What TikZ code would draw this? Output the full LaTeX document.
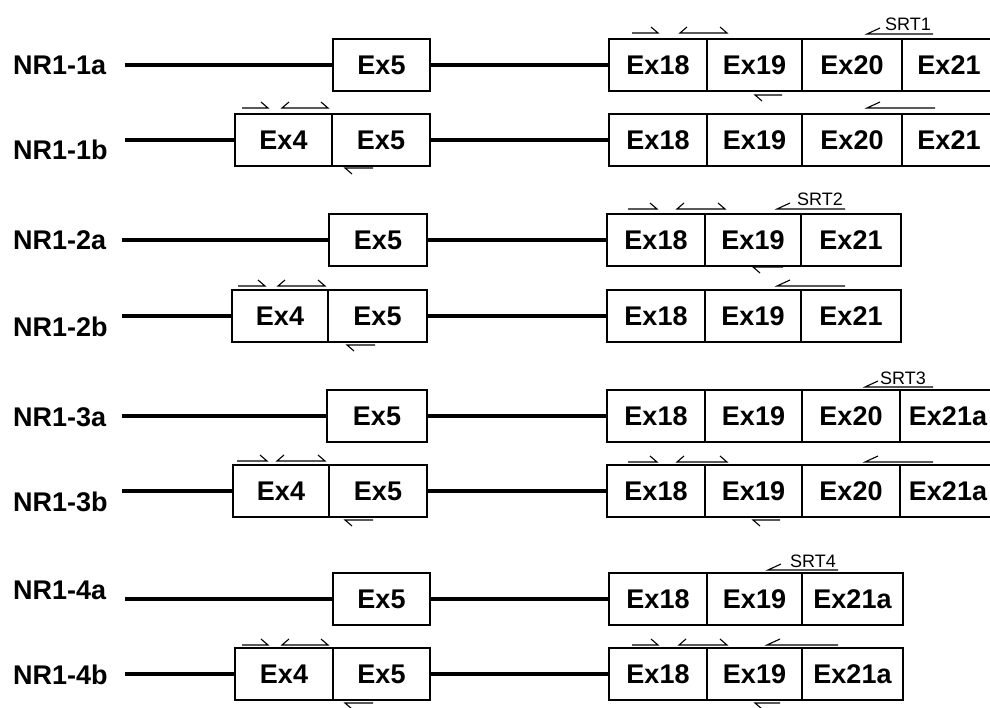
\documentclass[tikz,border=0pt]{standalone}
\usepackage{fontspec}
\setmainfont{Liberation Sans}
\newcommand\labfont{\bfseries\fontsize{27}{32}\selectfont}
\newcommand\srtfont{\fontsize{18}{21}\selectfont}
\newcommand\exon[5]{\pgfmathsetmacro\ecx{(#2+#3)/2}\pgfmathsetmacro\ew{#3-#2}\node[exon,minimum width=\ew pt] (#1) at (\ecx,#4) {#5};}
\newcommand\fwdp[3]{\draw[primer] (#1,#3) -- (#2,#3) -- ({#2-7},{#3-6});}
\newcommand\bothp[3]{\draw[primer] ({#1+7},{#3-6}) -- (#1,#3) -- (#2,#3) -- ({#2-7},{#3-6});}
\newcommand\revup[3]{\draw[primer] ({#1+13},{#3-6}) -- (#1,#3) -- (#2,#3);}
\newcommand\revdn[3]{\draw[primer] ({#1+7},{#3+6}) -- (#1,#3) -- (#2,#3);}
\begin{document}
\begin{tikzpicture}[x=1pt,y=-1pt,
  lab/.style={font=\labfont, anchor=west, inner sep=0},
  exon/.style={draw, line width=1.6pt, minimum height=52pt, inner sep=0, outer sep=0, font=\labfont},
  intron/.style={line width=4.5pt},
  primer/.style={line width=1.1pt},
  srt/.style={font=\srtfont, anchor=base west, inner sep=0}]
\clip (0,0) rectangle (990,708);
\fill[white] (0,0) rectangle (990,708);
% ---------- Row 1a ----------
\node[lab] (L1a) at (13,65) {NR1-1a};
\coordinate (s1a) at (125,65);
\exon{a1e5}{333}{430}{65}{Ex5}
\exon{a1e18}{609}{707}{65}{Ex18}
\exon{a1e19}{707}{802}{65}{Ex19}
\exon{a1e20}{802}{902}{65}{Ex20}
\exon{a1e21}{902}{996}{65}{Ex21}
\draw[intron] (s1a) -- (a1e5.west);
\draw[intron] (a1e5.east) -- (a1e18.west);
\fwdp{632}{658}{33} \bothp{680}{727}{33}
\revup{867}{933}{34} \revdn{755}{782}{95}
\node[srt] (srt1) at (885,31) {SRT1};
% ---------- Row 1b ----------
\node[lab] (L1b) at (13,150) {NR1-1b};
\coordinate (s1b) at (125,140);
\exon{b1e4}{235}{332}{140}{Ex4}
\exon{b1e5}{332}{430}{140}{Ex5}
\exon{b1e18}{609}{707}{140}{Ex18}
\exon{b1e19}{707}{802}{140}{Ex19}
\exon{b1e20}{802}{902}{140}{Ex20}
\exon{b1e21}{902}{996}{140}{Ex21}
\draw[intron] (s1b) -- (b1e4.west);
\draw[intron] (b1e5.east) -- (b1e18.west);
\fwdp{242}{268}{108} \bothp{282}{328}{108} \revdn{345}{373}{168}
\revup{867}{935}{108}
% ---------- Row 2a ----------
\node[lab] (L2a) at (13,240) {NR1-2a};
\coordinate (s2a) at (122,240);
\exon{a2e5}{329}{427}{240}{Ex5}
\exon{a2e18}{607}{705}{240}{Ex18}
\exon{a2e19}{705}{801}{240}{Ex19}
\exon{a2e21}{801}{901}{240}{Ex21}
\draw[intron] (s2a) -- (a2e5.west);
\draw[intron] (a2e5.east) -- (a2e18.west);
\fwdp{628}{657}{209} \bothp{677}{725}{209}
\revup{777}{845}{209} \revdn{753}{783}{267}
\node[srt] (srt2) at (797,206) {SRT2};
% ---------- Row 2b ----------
\node[lab] (L2b) at (13,327) {NR1-2b};
\coordinate (s2b) at (122,316);
\exon{b2e4}{232}{328}{316}{Ex4}
\exon{b2e5}{328}{427}{316}{Ex5}
\exon{b2e18}{607}{705}{316}{Ex18}
\exon{b2e19}{705}{801}{316}{Ex19}
\exon{b2e21}{801}{901}{316}{Ex21}
\draw[intron] (s2b) -- (b2e4.west);
\draw[intron] (b2e5.east) -- (b2e18.west);
\fwdp{238}{265}{286} \bothp{278}{325}{286} \revdn{347}{375}{345}
\revup{777}{845}{286}
% ---------- Row 3a ----------
\node[lab] (L3a) at (13,417) {NR1-3a};
\coordinate (s3a) at (122,416);
\exon{a3e5}{327}{427}{416}{Ex5}
\exon{a3e18}{607}{705}{416}{Ex18}
\exon{a3e19}{705}{802}{416}{Ex19}
\exon{a3e20}{802}{900}{416}{Ex20}
\exon{a3e21}{900}{996}{416}{Ex21a}
\draw[intron] (s3a) -- (a3e5.west);
\draw[intron] (a3e5.east) -- (a3e18.west);
\revup{865}{933}{387}
\node[srt] (srt3) at (880,384) {SRT3};
% ---------- Row 3b ----------
\node[lab] (L3b) at (13,502) {NR1-3b};
\coordinate (s3b) at (122,491);
\exon{b3e4}{233}{329}{491}{Ex4}
\exon{b3e5}{329}{427}{491}{Ex5}
\exon{b3e18}{607}{705}{491}{Ex18}
\exon{b3e19}{705}{802}{491}{Ex19}
\exon{b3e20}{802}{900}{491}{Ex20}
\exon{b3e21}{900}{996}{491}{Ex21a}
\draw[intron] (s3b) -- (b3e4.west);
\draw[intron] (b3e5.east) -- (b3e18.west);
\fwdp{237}{267}{461} \bothp{277}{325}{461} \revdn{345}{373}{520}
\fwdp{628}{657}{462} \bothp{677}{727}{462} \revup{865}{933}{462}
\revdn{753}{780}{520}
% ---------- Row 4a ----------
\node[lab] (L4a) at (13,590) {NR1-4a};
\coordinate (s4a) at (125,599);
\exon{a4e5}{333}{430}{599}{Ex5}
\exon{a4e18}{609}{707}{599}{Ex18}
\exon{a4e19}{707}{802}{599}{Ex19}
\exon{a4e21}{802}{903}{599}{Ex21a}
\draw[intron] (s4a) -- (a4e5.west);
\draw[intron] (a4e5.east) -- (a4e18.west);
\revup{768}{838}{570}
\node[srt] (srt4) at (790,567) {SRT4};
% ---------- Row 4b ----------
\node[lab] (L4b) at (13,675) {NR1-4b};
\coordinate (s4b) at (125,674);
\exon{b4e4}{235}{333}{674}{Ex4}
\exon{b4e5}{333}{430}{674}{Ex5}
\exon{b4e18}{609}{707}{674}{Ex18}
\exon{b4e19}{707}{802}{674}{Ex19}
\exon{b4e21}{802}{903}{674}{Ex21a}
\draw[intron] (s4b) -- (b4e4.west);
\draw[intron] (b4e5.east) -- (b4e18.west);
\fwdp{242}{268}{645} \bothp{282}{328}{645} \revdn{345}{373}{703}
\fwdp{632}{658}{645} \bothp{679}{727}{645} \revup{767}{838}{645}
\revdn{755}{780}{703}
\end{tikzpicture}
\end{document}
